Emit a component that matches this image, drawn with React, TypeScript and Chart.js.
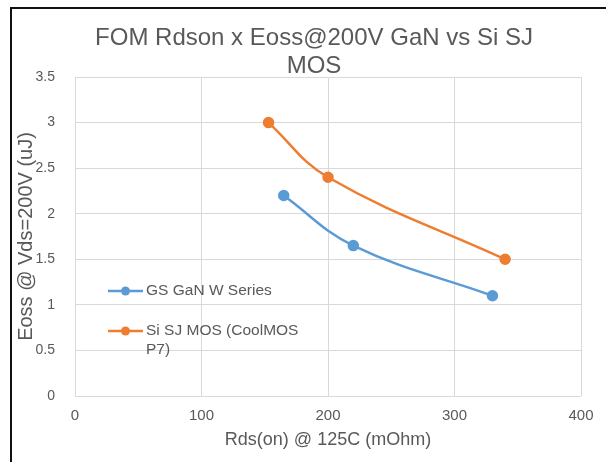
import React, { useEffect, useRef } from 'react';
import { Chart, registerables } from 'chart.js';

Chart.register(...registerables);

const titleLines = ['FOM Rdson x Eoss@200V GaN vs Si SJ', 'MOS'];
const xAxisTitle = 'Rds(on) @ 125C (mOhm)';
const yAxisTitle = 'Eoss @ Vds=200V (uJ)';
const xTickLabels = ['0', '100', '200', '300', '400'];
const yTickLabels = ['0', '0.5', '1', '1.5', '2', '2.5', '3', '3.5'];

const ganLabel = 'GS GaN W Series';
const ganX = [165, 220, 330];
const ganY = [2.2, 1.65, 1.1];

const siLabel = 'Si SJ MOS (CoolMOS P7)';
const siX = [153, 200, 340];
const siY = [3.0, 2.4, 1.5];

const BLUE = '#5B9BD5';
const ORANGE = '#ED7D31';
const TEXT = '#595959';
const FONT = "'Liberation Sans', Arial, sans-serif";

function wrapText(ctx: CanvasRenderingContext2D, text: string, maxWidth: number): string[] {
  const words = text.split(' ');
  const lines: string[] = [];
  let cur = '';
  for (const w of words) {
    const test = cur ? cur + ' ' + w : w;
    if (ctx.measureText(test).width > maxWidth && cur) {
      lines.push(cur);
      cur = w;
    } else {
      cur = test;
    }
  }
  if (cur) lines.push(cur);
  return lines;
}

const titlePlugin = {
  id: 'customTitle',
  afterDraw(chart: any) {
    const ctx = chart.ctx as CanvasRenderingContext2D;
    ctx.save();
    ctx.font = `24px ${FONT}`;
    ctx.fillStyle = TEXT;
    ctx.textAlign = 'center';
    ctx.textBaseline = 'alphabetic';
    titleLines.forEach((line, i) => {
      ctx.fillText(line, 314, 45 + i * 28);
    });
    ctx.restore();
  },
};

const legendPlugin = {
  id: 'inlineLegend',
  afterDraw(chart: any) {
    const ctx = chart.ctx as CanvasRenderingContext2D;
    const area = chart.chartArea;
    ctx.save();
    ctx.font = `15.5px ${FONT}`;
    ctx.textBaseline = 'middle';
    ctx.textAlign = 'left';
    const x0 = area.left + 33;
    const ys = [area.top + 214, area.top + 254];
    chart.data.datasets.forEach((ds: any, i: number) => {
      const y = ys[i];
      ctx.strokeStyle = ds.borderColor;
      ctx.lineWidth = 2.5;
      ctx.beginPath();
      ctx.moveTo(x0, y);
      ctx.lineTo(x0 + 35, y);
      ctx.stroke();
      ctx.fillStyle = ds.borderColor;
      ctx.beginPath();
      ctx.arc(x0 + 17.5, y, 4.5, 0, Math.PI * 2);
      ctx.fill();
      ctx.fillStyle = TEXT;
      const lines = wrapText(ctx, ds.label, 160);
      lines.forEach((ln, j) => {
        ctx.fillText(ln, x0 + 38, y + j * 18.5);
      });
    });
    ctx.restore();
  },
};

export default function App() {
  const ref = useRef<HTMLCanvasElement | null>(null);

  useEffect(() => {
    if (!ref.current) return;
    const chart = new Chart(ref.current, {
      type: 'scatter',
      data: {
        datasets: [
          {
            label: ganLabel,
            data: ganX.map((x, i) => ({ x, y: ganY[i] })),
            borderColor: BLUE,
            backgroundColor: BLUE,
            pointBackgroundColor: BLUE,
            pointBorderColor: BLUE,
            showLine: true,
            tension: 0.4,
            borderWidth: 2.5,
            pointRadius: 4.5,
          },
          {
            label: siLabel,
            data: siX.map((x, i) => ({ x, y: siY[i] })),
            borderColor: ORANGE,
            backgroundColor: ORANGE,
            pointBackgroundColor: ORANGE,
            pointBorderColor: ORANGE,
            showLine: true,
            tension: 0.4,
            borderWidth: 2.5,
            pointRadius: 4.5,
          },
        ],
      },
      options: {
        responsive: false,
        animation: false,
        layout: { padding: { left: 0, right: 25, top: 77, bottom: 0 } },
        plugins: {
          legend: { display: false },
          title: { display: false },
          tooltip: { enabled: false },
        },
        scales: {
          x: {
            type: 'linear',
            min: 0,
            max: 400,
            ticks: {
              stepSize: 100,
              color: TEXT,
              font: { family: FONT, size: 15 },
              padding: 11,
              callback: (_v: any, i: number) => xTickLabels[i],
            },
            grid: { color: '#D9D9D9', lineWidth: 1, drawTicks: false },
            border: { display: false },
            title: {
              display: true,
              text: xAxisTitle,
              color: TEXT,
              font: { family: FONT, size: 18 },
              padding: { top: 0, bottom: 11 },
            },
            afterFit: (s: any) => {
              s.height = 66;
            },
          },
          y: {
            type: 'linear',
            min: 0,
            max: 3.5,
            ticks: {
              stepSize: 0.5,
              color: TEXT,
              font: { family: FONT, size: 14 },
              padding: 20,
              callback: (_v: any, i: number) => yTickLabels[i],
            },
            grid: { color: '#D9D9D9', lineWidth: 1, drawTicks: false },
            border: { display: false },
            title: {
              display: true,
              text: yAxisTitle,
              color: TEXT,
              font: { family: FONT, size: 20 },
              padding: { top: 14, bottom: 0 },
            },
            afterFit: (s: any) => {
              s.width = 75;
            },
          },
        },
      },
      plugins: [titlePlugin, legendPlugin],
    });
    return () => chart.destroy();
  }, []);

  return (
    <div
      style={{
        position: 'fixed',
        left: 0,
        top: 0,
        width: 606,
        height: 462,
        background: '#fff',
        overflow: 'hidden',
      }}
    >
      <canvas ref={ref} width={606} height={462} style={{ position: 'absolute', left: 0, top: 0 }} />
      <div
        style={{
          position: 'absolute',
          left: 10,
          top: 7,
          right: -10,
          bottom: -10,
          borderTop: '2px solid #111',
          borderLeft: '2px solid #111',
          pointerEvents: 'none',
        }}
      />
    </div>
  );
}
